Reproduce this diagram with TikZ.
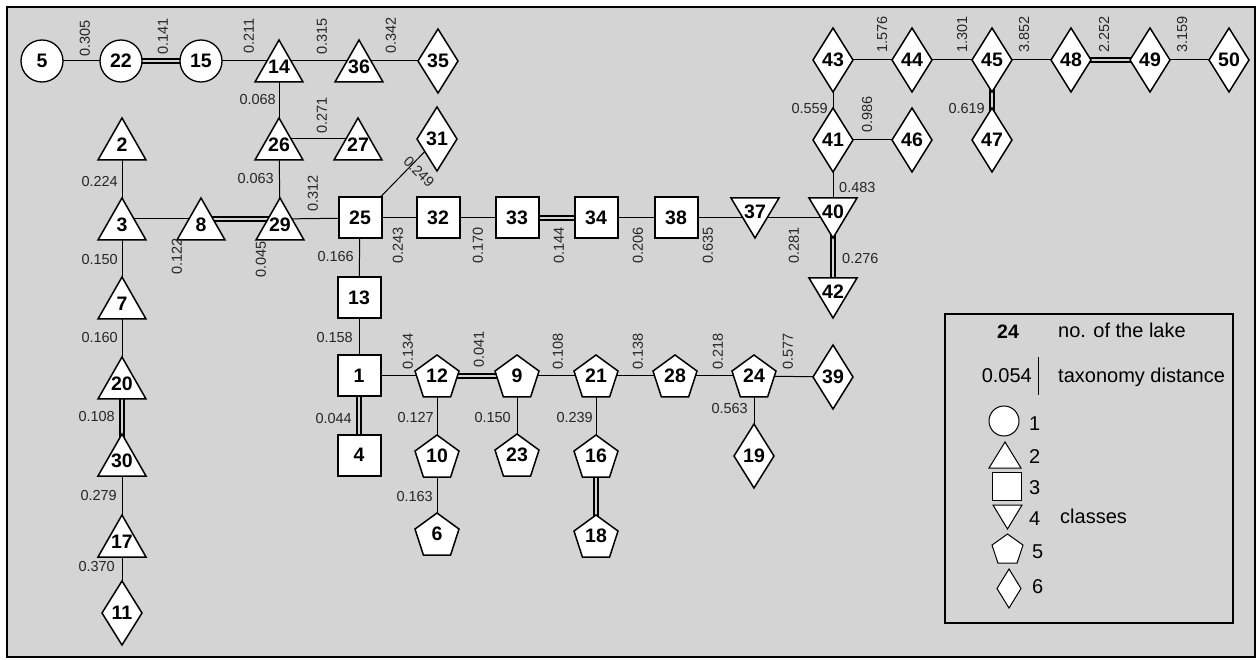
\documentclass[tikz,border=0pt]{standalone}
\usepackage{fontspec}
\setmainfont{Liberation Sans}
\usetikzlibrary{calc}
\pgfdeclarelayer{back0}
\pgfdeclarelayer{edges}
\pgfsetlayers{back0,edges,main}
\definecolor{bg}{RGB}{212,212,212}
\makeatletter
\newdimen\shxa \newdimen\shya \newdimen\shxb \newdimen\shyb \newdimen\shw \newdimen\shh
\def\shpcorners{%
  \pgf@process{\southwest}\shxa=\pgf@x \shya=\pgf@y
  \pgf@process{\northeast}\shxb=\pgf@x \shyb=\pgf@y
  \shw=\shxb \advance\shw by -\shxa
  \shh=\shyb \advance\shh by -\shya}
\pgfdeclareshape{uptri}{%
  \inheritsavedanchors[from=rectangle]%
  \inheritanchorborder[from=rectangle]%
  \inheritanchor[from=rectangle]{center}%
  \inheritanchor[from=rectangle]{north}%
  \inheritanchor[from=rectangle]{south}%
  \inheritanchor[from=rectangle]{east}%
  \inheritanchor[from=rectangle]{west}%
  \anchor{text}{\pgfqpoint{0pt}{-6pt}}%
  \backgroundpath{%
    \shpcorners
    \pgfpathmoveto{\pgfqpoint{\shxa}{\shya}}%
    \pgfpathlineto{\pgfqpoint{\shxb}{\shya}}%
    \pgfpathlineto{\pgfqpoint{\dimexpr\shxa+0.5\shw\relax}{\shyb}}%
    \pgfpathclose}%
}
\pgfdeclareshape{downtri}{%
  \inheritsavedanchors[from=rectangle]%
  \inheritanchorborder[from=rectangle]%
  \inheritanchor[from=rectangle]{center}%
  \inheritanchor[from=rectangle]{north}%
  \inheritanchor[from=rectangle]{south}%
  \inheritanchor[from=rectangle]{east}%
  \inheritanchor[from=rectangle]{west}%
  \anchor{text}{\pgfqpoint{0pt}{6.5pt}}%
  \backgroundpath{%
    \shpcorners
    \pgfpathmoveto{\pgfqpoint{\shxa}{\shyb}}%
    \pgfpathlineto{\pgfqpoint{\shxb}{\shyb}}%
    \pgfpathlineto{\pgfqpoint{\dimexpr\shxa+0.5\shw\relax}{\shya}}%
    \pgfpathclose}%
}
\pgfdeclareshape{rhomb}{%
  \inheritsavedanchors[from=rectangle]%
  \inheritanchorborder[from=rectangle]%
  \inheritanchor[from=rectangle]{center}%
  \inheritanchor[from=rectangle]{north}%
  \inheritanchor[from=rectangle]{south}%
  \inheritanchor[from=rectangle]{east}%
  \inheritanchor[from=rectangle]{west}%
  \anchor{text}{\pgfpointorigin}%
  \backgroundpath{%
    \shpcorners
    \pgfpathmoveto{\pgfqpoint{\dimexpr\shxa+0.5\shw\relax}{\shya}}%
    \pgfpathlineto{\pgfqpoint{\shxb}{\dimexpr\shya+0.5\shh\relax}}%
    \pgfpathlineto{\pgfqpoint{\dimexpr\shxa+0.5\shw\relax}{\shyb}}%
    \pgfpathlineto{\pgfqpoint{\shxa}{\dimexpr\shya+0.5\shh\relax}}%
    \pgfpathclose}%
}
\pgfdeclareshape{pentbox}{%
  \inheritsavedanchors[from=rectangle]%
  \inheritanchorborder[from=rectangle]%
  \inheritanchor[from=rectangle]{center}%
  \inheritanchor[from=rectangle]{north}%
  \inheritanchor[from=rectangle]{south}%
  \inheritanchor[from=rectangle]{east}%
  \inheritanchor[from=rectangle]{west}%
  \anchor{text}{\pgfpointorigin}%
  \backgroundpath{%
    \shpcorners
    \pgfpathmoveto{\pgfqpoint{\dimexpr\shxa+0.5\shw\relax}{\shyb}}%
    \pgfpathlineto{\pgfqpoint{\shxb}{\dimexpr\shya+0.618\shh\relax}}%
    \pgfpathlineto{\pgfqpoint{\dimexpr\shxa+0.809\shw\relax}{\shya}}%
    \pgfpathlineto{\pgfqpoint{\dimexpr\shxa+0.191\shw\relax}{\shya}}%
    \pgfpathlineto{\pgfqpoint{\shxa}{\dimexpr\shya+0.618\shh\relax}}%
    \pgfpathclose}%
}
\makeatother
\tikzset{
  lake/.style={draw=black, fill=white, inner sep=0pt, outer sep=0pt,
    font=\bfseries\fontsize{19.5pt}{20pt}\selectfont, line width=1.5pt, line join=miter},
  circ/.style={lake, circle, minimum size=42pt, line width=1.3pt},
  sq/.style={lake, rectangle, minimum width=43pt, minimum height=41pt, line width=2pt},
  tup/.style={lake, shape=uptri, minimum width=48pt, minimum height=42pt},
  tdn/.style={lake, shape=downtri, minimum width=48pt, minimum height=40pt},
  pent/.style={lake, shape=pentbox, minimum width=44pt, minimum height=42pt},
  dia/.style={lake, shape=rhomb, minimum width=40pt, minimum height=64pt},
  e/.style={line width=1pt},
  dbl/.style={line width=1.3pt, double=bg, double distance=2.6pt},
  lab/.style={font=\fontsize{14.5pt}{15pt}\selectfont, inner sep=0pt, text=black!85},
  rl/.style={lab, rotate=90, anchor=west},
  rlt/.style={lab, rotate=90, anchor=east},
  hl/.style={lab, anchor=east},
  hr/.style={lab, anchor=west},
  legt/.style={font=\fontsize{20pt}{21pt}\selectfont, inner sep=0pt},
  legshape/.style={line width=1pt}
}
\begin{document}
\begin{tikzpicture}[x=1pt,y=-1pt]
\useasboundingbox (0,0) rectangle (1259,660);
\begin{pgfonlayer}{back0}
\fill[white] (0,0) rectangle (1259,660);
\draw[fill=bg, line width=1.2pt] (7,7) rectangle (1255,657);
\end{pgfonlayer}
% lakes
\node[circ] (n5) at (42,61) {5};
\node[circ] (n22) at (121,61) {22};
\node[circ] (n15) at (201,61) {15};
\node[tup] (n14) at (279,61) {14};
\node[tup] (n36) at (359,61) {36};
\node[dia] (n35) at (438,61) {35};
\node[tup] (n26) at (279,139) {26};
\node[tup] (n27) at (358,139) {27};
\node[dia] (n31) at (437,139) {31};
\node[tup] (n2) at (122,139) {2};
\node[tup] (n3) at (122,219) {3};
\node[tup] (n8) at (201,219) {8};
\node[tup] (n29) at (280,219) {29};
\node[sq] (n25) at (360,218) {25};
\node[sq] (n32) at (438,218) {32};
\node[sq] (n33) at (517,218) {33};
\node[sq] (n34) at (596,218) {34};
\node[sq] (n38) at (676,218) {38};
\node[tdn] (n37) at (755,218) {37};
\node[tdn] (n40) at (833,218) {40};
\node[tdn] (n42) at (833,298) {42};
\node[dia] (n41) at (833,140) {41};
\node[dia] (n43) at (833,60) {43};
\node[dia] (n44) at (912,60) {44};
\node[dia] (n46) at (912,140) {46};
\node[dia] (n45) at (992,60) {45};
\node[dia] (n47) at (992,140) {47};
\node[dia] (n48) at (1071,60) {48};
\node[dia] (n49) at (1150,60) {49};
\node[dia] (n50) at (1229,60) {50};
\node[tup] (n7) at (122,298) {7};
\node[tup] (n20) at (122,378) {20};
\node[tup] (n30) at (122,455) {30};
\node[tup] (n17) at (122,536) {17};
\node[dia] (n11) at (122,613) {11};
\node[sq] (n13) at (359,298) {13};
\node[sq] (n1) at (359,376) {1};
\node[sq] (n4) at (359,455) {4};
\node[pent] (n12) at (437,376) {12};
\node[pent] (n9) at (517,376) {9};
\node[pent] (n21) at (596,376) {21};
\node[pent] (n28) at (675,376) {28};
\node[pent] (n24) at (754,376) {24};
\node[dia] (n39) at (833,377) {39};
\node[pent] (n10) at (437,456) {10};
\node[pent] (n23) at (517,455) {23};
\node[pent] (n16) at (596,456) {16};
\node[pent] (n6) at (437,534) {6};
\node[pent] (n18) at (596,536) {18};
\node[dia] (n19) at (754,456) {19};
% connectors
\begin{pgfonlayer}{edges}
\draw[e] (n5.center) -- (n22.center);
\draw[dbl] (n22.center) -- (n15.center);
\draw[e] (n15.center) -- (n14.center);
\draw[e] (n14.center) -- (n36.center);
\draw[e] (n36.center) -- (n35.center);
\draw[e] (n14.center) -- (n26.center);
\draw[e] (n26.center) -- (n27.center);
\draw[e] (n26.center) -- (n29.center);
\draw[e] (n2.center) -- (n3.center);
\draw[e] (n3.center) -- (n8.center);
\draw[dbl] (n8.center) -- (n29.center);
\draw[e] (n29.center) -- (n25.center);
\draw[e] (n25.center) -- (n31.center);
\draw[e] (n25.center) -- (n32.center);
\draw[e] (n32.center) -- (n33.center);
\draw[dbl] (n33.center) -- (n34.center);
\draw[e] (n34.center) -- (n38.center);
\draw[e] (n38.center) -- (n37.center);
\draw[e] (n37.center) -- (n40.center);
\draw[e] (n40.center) -- (n41.center);
\draw[dbl] (n40.center) -- (n42.center);
\draw[e] (n41.center) -- (n43.center);
\draw[e] (n41.center) -- (n46.center);
\draw[e] (n43.center) -- (n44.center);
\draw[e] (n44.center) -- (n45.center);
\draw[dbl] (n45.center) -- (n47.center);
\draw[e] (n45.center) -- (n48.center);
\draw[dbl] (n48.center) -- (n49.center);
\draw[e] (n49.center) -- (n50.center);
\draw[e] (n3.center) -- (n7.center);
\draw[e] (n7.center) -- (n20.center);
\draw[dbl] (n20.center) -- (n30.center);
\draw[e] (n30.center) -- (n17.center);
\draw[e] (n17.center) -- (n11.center);
\draw[e] (n25.center) -- (n13.center);
\draw[e] (n13.center) -- (n1.center);
\draw[dbl] (n1.center) -- (n4.center);
\draw[e] (n1.center) -- (n12.center);
\draw[dbl] (n12.center) -- (n9.center);
\draw[e] (n9.center) -- (n21.center);
\draw[e] (n21.center) -- (n28.center);
\draw[e] (n28.center) -- (n24.center);
\draw[e] (n24.center) -- (n39.center);
\draw[e] (n24.center) -- (n19.center);
\draw[e] (n12.center) -- (n10.center);
\draw[e] (n10.center) -- (n6.center);
\draw[e] (n9.center) -- (n23.center);
\draw[e] (n21.center) -- (n16.center);
\draw[dbl] (n16.center) -- (n18.center);
\end{pgfonlayer}
% distance labels
\node[rl] (d5x22) at (85,57) {0.305};
\node[rl] (d22x15) at (163,55) {0.141};
\node[rl] (d15x14) at (249,54) {0.211};
\node[rl] (d14x36) at (322,55) {0.315};
\node[rl] (d36x35) at (391,54) {0.342};
\node[rl] (d26x27) at (322,134) {0.271};
\node[rl] (d29x25) at (313,212) {0.312};
\node[rl] (d41x46) at (867,133) {0.986};
\node[rl] (d43x44) at (882,53) {1.576};
\node[rl] (d44x45) at (962,53) {1.301};
\node[rl] (d45x48) at (1024,53) {3.852};
\node[rl] (d48x49) at (1104,53) {2.252};
\node[rl] (d49x50) at (1182,53) {3.159};
\node[rl] (d1x12) at (408,370) {0.134};
\node[rl] (d12x9) at (479,368) {0.041};
\node[rl] (d9x21) at (558,370) {0.108};
\node[rl] (d21x28) at (638,370) {0.138};
\node[rl] (d28x24) at (718,370) {0.218};
\node[rl] (d24x39) at (788,370) {0.577};
\node[rlt] (d25x32) at (398,227) {0.243};
\node[rlt] (d32x33) at (478,227) {0.170};
\node[rlt] (d33x34) at (559,227) {0.144};
\node[rlt] (d34x38) at (638,227) {0.206};
\node[rlt] (d38x37) at (708,227) {0.635};
\node[rlt] (d37x40) at (794,227) {0.281};
\node[rlt] (d3x8) at (177,238) {0.122};
\node[rlt] (d8x29) at (261,241) {0.045};
\node[lab, rotate=-45] (d25x31) at (419,172) {0.249};
\node[hl] (d14x26) at (276,100) {0.068};
\node[hl] (d26x29) at (274,179) {0.063};
\node[hl] (d2x3) at (118,182) {0.224};
\node[hl] (d3x7) at (118,260) {0.150};
\node[hl] (d7x20) at (118,338) {0.160};
\node[hl] (d20x30) at (115,417) {0.108};
\node[hl] (d30x17) at (117,496) {0.279};
\node[hl] (d17x11) at (115,567) {0.370};
\node[hl] (d25x13) at (354,257) {0.166};
\node[hl] (d13x1) at (353,338) {0.158};
\node[hl] (d1x4) at (352,419) {0.044};
\node[hl] (d12x10) at (434,418) {0.127};
\node[hl] (d9x23) at (511,418) {0.150};
\node[hl] (d21x16) at (593,418) {0.239};
\node[hl] (d10x6) at (433,497) {0.163};
\node[hl] (d24x19) at (748,409) {0.563};
\node[hl] (d41x43) at (828,109) {0.559};
\node[hl] (d45x47) at (985,109) {0.619};
\node[hr] (d40x41) at (839,188) {0.483};
\node[hr] (d40x42) at (842,259) {0.276};
% legend
\node[draw, line width=1.6pt, minimum width=288pt, minimum height=309pt, inner sep=0pt] (legend) at (1089,468.5) {};
\node[legt, font=\bfseries\fontsize{19.5pt}{20pt}\selectfont, anchor=base] (lg24) at (1008,339) {24};
\node[legt, anchor=base west] (lgno) at (1058,338) {no. of the lake};
\node[legt, anchor=base east] (lg054) at (1032,383) {0.054};
\draw[line width=1pt] (1038,357) -- (1038,395);
\node[legt, anchor=base west] (lgtax) at (1058,383) {taxonomy distance};
\node[circ, legshape, minimum size=30pt] (lc1) at (1004,421) {};
\node[tup, legshape, minimum width=32pt, minimum height=26pt] (lc2) at (1005,455) {};
\node[sq, legshape, minimum width=29pt, minimum height=28pt] (lc3) at (1006.5,486) {};
\node[tdn, legshape, minimum width=29pt, minimum height=24pt] (lc4) at (1007.5,517) {};
\node[pent, legshape, minimum width=31pt, minimum height=29pt] (lc5) at (1007.5,548.5) {};
\node[dia, legshape, minimum width=24pt, minimum height=39pt] (lc6) at (1009,588.5) {};
\node[legt, anchor=base west] (lt1) at (1029,431) {1};
\node[legt, anchor=base west] (lt2) at (1029,463) {2};
\node[legt, anchor=base west] (lt3) at (1029,494) {3};
\node[legt, anchor=base west] (lt4) at (1029,525) {4};
\node[legt, anchor=base west] (lt5) at (1032,558) {5};
\node[legt, anchor=base west] (lt6) at (1032,593) {6};
\node[legt, anchor=base west] (lcls) at (1060,523) {classes};
\end{tikzpicture}
\end{document}
